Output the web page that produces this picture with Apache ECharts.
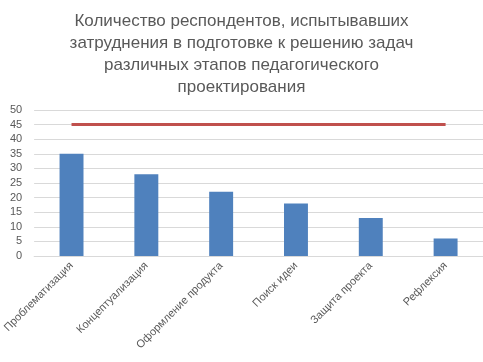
<!DOCTYPE html>
<html><head><meta charset="utf-8">
<script src="https://cdn.jsdelivr.net/npm/echarts@6/dist/echarts.min.js"></script>
<style>html,body{margin:0;padding:0;background:#fff}#c{width:483px;height:362px}</style>
</head><body><div id="c"></div>
<script>
const titleText = 'Количество респондентов, испытывавших\nзатруднения в подготовке к решению задач\nразличных этапов педагогического\nпроектирования';
const categories = ['Проблематизация','Концептуализация','Оформление продукта','Поиск идеи','Защита проекта','Рефлексия'];
const barValues = [35, 28, 22, 18, 13, 6];
const lineValues = [45, 45, 45, 45, 45, 45];
const yTicks = {min: 0, max: 50, interval: 5};

const chart = echarts.init(document.getElementById('c'), null, {renderer: 'canvas'});
chart.setOption({
  animation: false,
  title: {
    text: titleText, left: 'center', top: 5,
    textStyle: {fontFamily: 'Liberation Sans', fontSize: 17, fontWeight: 'normal', color: '#595959', lineHeight: 22}
  },
  grid: {left: 34, right: 0, top: 110, bottom: 106, containLabel: false},
  xAxis: {
    type: 'category', data: categories,
    axisLine: {show: true, lineStyle: {color: '#D9D9D9'}},
    axisTick: {show: false},
    axisLabel: {rotate: 45, interval: 0, fontFamily: 'Liberation Sans', fontSize: 11, color: '#595959', margin: 8}
  },
  yAxis: {
    type: 'value', min: yTicks.min, max: yTicks.max, interval: yTicks.interval,
    axisLine: {show: false}, axisTick: {show: false},
    splitLine: {lineStyle: {color: '#D9D9D9', width: 1}},
    axisLabel: {fontFamily: 'Liberation Sans', fontSize: 11, color: '#595959', margin: 12}
  },
  series: [
    {type: 'bar', data: barValues, barWidth: '32%', itemStyle: {color: '#4F81BD'}},
    {type: 'line', data: lineValues, symbol: 'none', lineStyle: {color: '#C0504D', width: 3}}
  ]
});
</script></body></html>
